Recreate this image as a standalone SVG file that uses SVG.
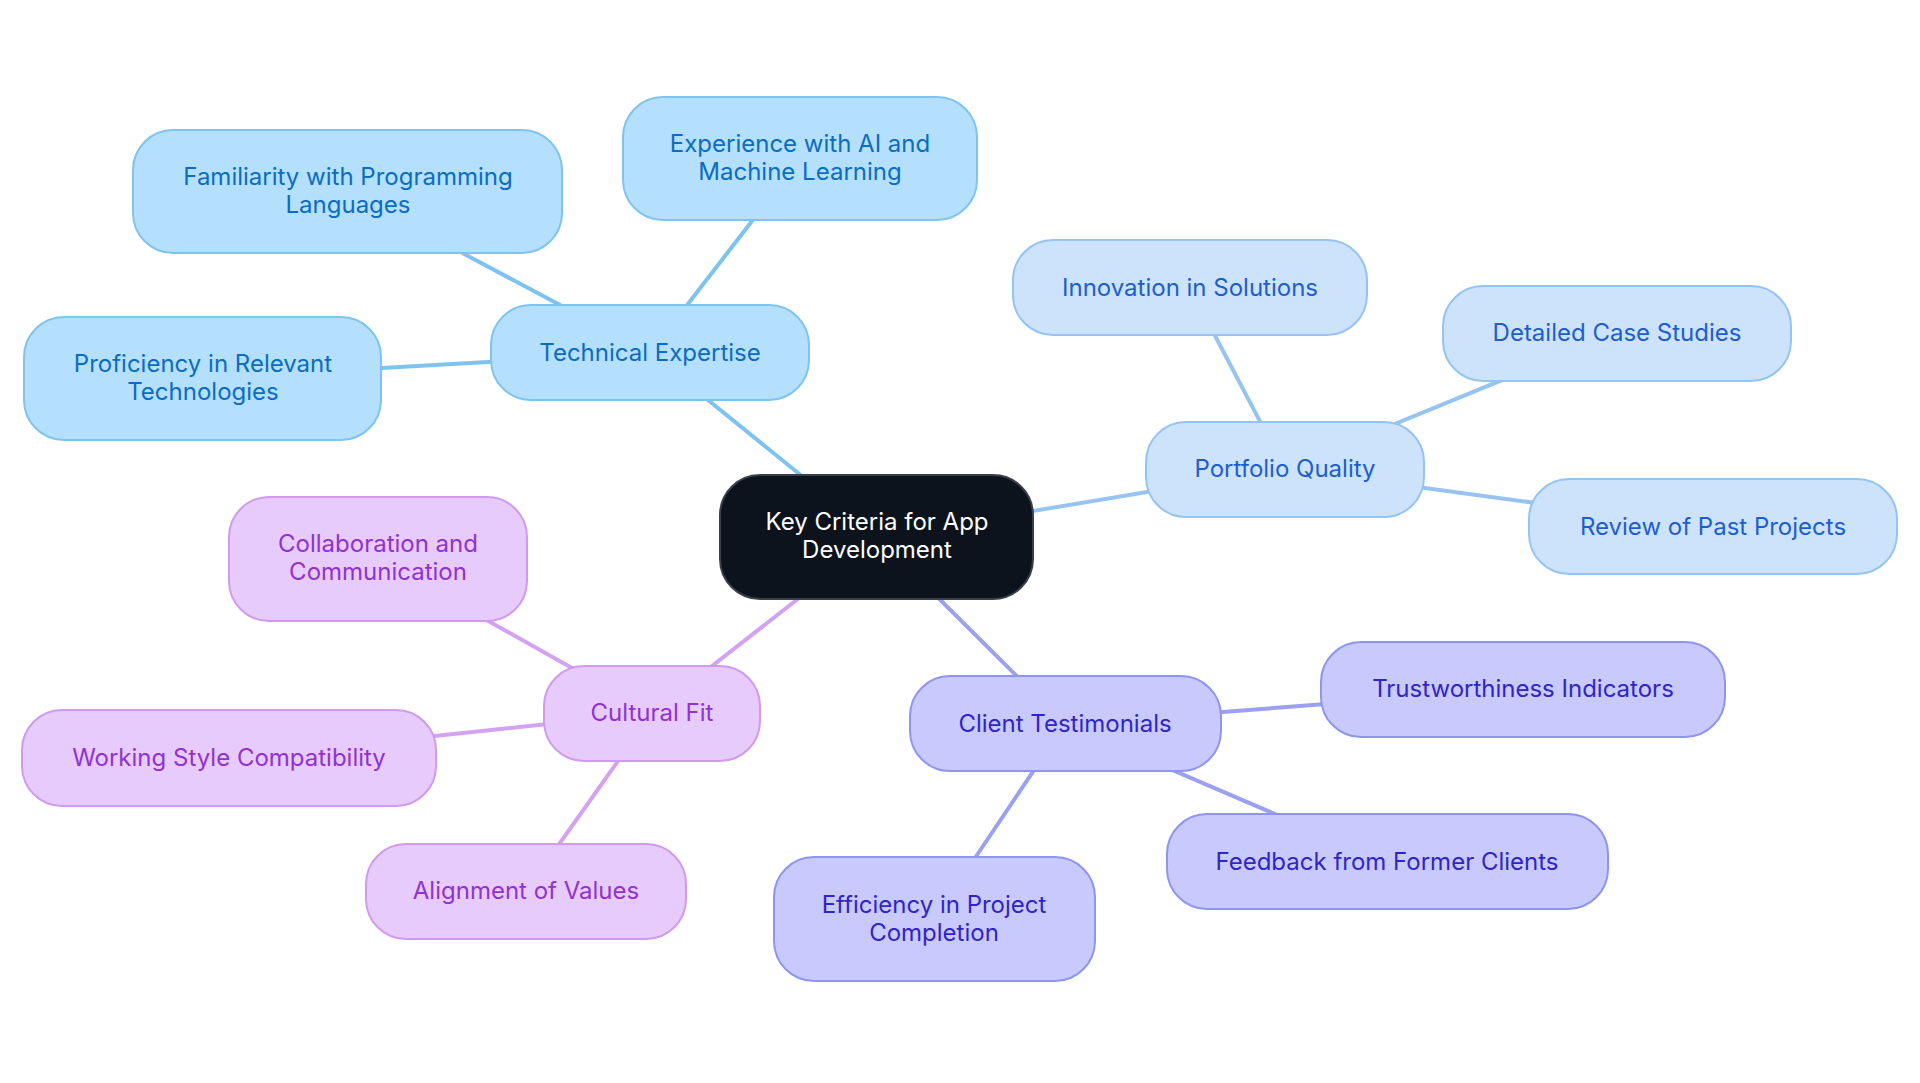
<svg xmlns="http://www.w3.org/2000/svg" width="1920" height="1083" viewBox="0 0 1920 1083">
<style>
text{font-family:Inter,"Noto Sans",sans-serif;font-size:24px;text-anchor:middle;dominant-baseline:central}
.e{stroke-width:4;fill:none}
.et{stroke:#7ec2f0}.ep{stroke:#97c3f0}.ec{stroke:#9ba0f0}.ef{stroke:#d3a2f2}
.t rect{fill:#b4e0fd;stroke:#7fc3f1;stroke-width:2}.t text{fill:#0a6cc2}
.p rect{fill:#cde3fb;stroke:#96c4f2;stroke-width:2}.p text{fill:#1c5ed0}
.c rect{fill:#c8cafd;stroke:#8e95ef;stroke-width:2}.c text{fill:#3024c8}
.f rect{fill:#e8cbfd;stroke:#d09af0;stroke-width:2}.f text{fill:#9131d2}
</style>
<rect width="1920" height="1083" fill="#fff"/>
<g id="connectors">
<line class="e et" x1="877" y1="537" x2="650" y2="353"/>
<line class="e et" x1="650" y1="353" x2="348" y2="192"/>
<line class="e et" x1="650" y1="353" x2="800" y2="159"/>
<line class="e et" x1="650" y1="353" x2="203" y2="378"/>
<line class="e ep" x1="877" y1="537" x2="1285" y2="469"/>
<line class="e ep" x1="1285" y1="469" x2="1190" y2="288"/>
<line class="e ep" x1="1285" y1="469" x2="1617" y2="333"/>
<line class="e ep" x1="1285" y1="469" x2="1713" y2="527"/>
<line class="e ec" x1="877" y1="537" x2="1065" y2="724"/>
<line class="e ec" x1="1065" y1="724" x2="1523" y2="689"/>
<line class="e ec" x1="1065" y1="724" x2="1387" y2="862"/>
<line class="e ec" x1="1065" y1="724" x2="934" y2="919"/>
<line class="e ef" x1="877" y1="537" x2="652" y2="713"/>
<line class="e ef" x1="652" y1="713" x2="378" y2="559"/>
<line class="e ef" x1="652" y1="713" x2="229" y2="758"/>
<line class="e ef" x1="652" y1="713" x2="526" y2="891"/>
</g>
<g id="root">
<rect x="720" y="475" width="313" height="124" rx="40" fill="#0d131c" stroke="#3b4048" stroke-width="2"/>
<text x="877" y="521" fill="#fff">Key Criteria for App</text>
<text x="877" y="549" fill="#fff">Development</text>
</g>
<g id="technical-expertise" class="t">
<rect x="491" y="305" width="318" height="95" rx="40"/>
<text x="650" y="352">Technical Expertise</text>
</g>
<g id="familiarity" class="t">
<rect x="133" y="130" width="429" height="123" rx="40"/>
<text x="348" y="176">Familiarity with Programming</text>
<text x="348" y="204">Languages</text>
</g>
<g id="experience-ai" class="t">
<rect x="623" y="97" width="354" height="123" rx="40"/>
<text x="800" y="143">Experience with AI and</text>
<text x="800" y="171">Machine Learning</text>
</g>
<g id="proficiency" class="t">
<rect x="24" y="317" width="357" height="123" rx="40"/>
<text x="203" y="363">Proficiency in Relevant</text>
<text x="203" y="391">Technologies</text>
</g>
<g id="portfolio-quality" class="p">
<rect x="1146" y="422" width="278" height="95" rx="40"/>
<text x="1285" y="468">Portfolio Quality</text>
</g>
<g id="innovation" class="p">
<rect x="1013" y="240" width="354" height="95" rx="40"/>
<text x="1190" y="287">Innovation in Solutions</text>
</g>
<g id="case-studies" class="p">
<rect x="1443" y="286" width="348" height="95" rx="40"/>
<text x="1617" y="332">Detailed Case Studies</text>
</g>
<g id="past-projects" class="p">
<rect x="1529" y="479" width="368" height="95" rx="40"/>
<text x="1713" y="526">Review of Past Projects</text>
</g>
<g id="client-testimonials" class="c">
<rect x="910" y="676" width="311" height="95" rx="40"/>
<text x="1065" y="723">Client Testimonials</text>
</g>
<g id="trustworthiness" class="c">
<rect x="1321" y="642" width="404" height="95" rx="40"/>
<text x="1523" y="688">Trustworthiness Indicators</text>
</g>
<g id="feedback" class="c">
<rect x="1167" y="814" width="441" height="95" rx="40"/>
<text x="1387" y="861">Feedback from Former Clients</text>
</g>
<g id="efficiency" class="c">
<rect x="774" y="857" width="321" height="124" rx="40"/>
<text x="934" y="904">Efficiency in Project</text>
<text x="934" y="932">Completion</text>
</g>
<g id="cultural-fit" class="f">
<rect x="544" y="666" width="216" height="95" rx="40"/>
<text x="652" y="712">Cultural Fit</text>
</g>
<g id="collaboration" class="f">
<rect x="229" y="497" width="298" height="124" rx="40"/>
<text x="378" y="543">Collaboration and</text>
<text x="378" y="571">Communication</text>
</g>
<g id="working-style" class="f">
<rect x="22" y="710" width="414" height="96" rx="40"/>
<text x="229" y="757">Working Style Compatibility</text>
</g>
<g id="alignment" class="f">
<rect x="366" y="844" width="320" height="95" rx="40"/>
<text x="526" y="890">Alignment of Values</text>
</g>
</svg>
